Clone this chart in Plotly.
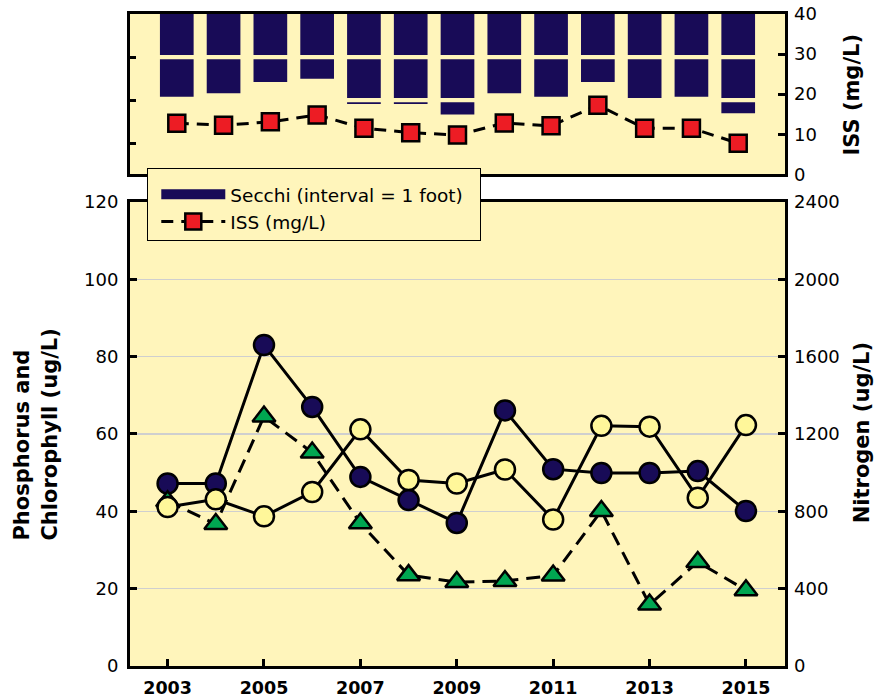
import plotly.graph_objects as go

# ---------------- data ----------------
years = list(range(2003, 2016))
secchi_ft = [1.92, 1.84, 1.58, 1.50, 2.09, 2.09, 2.33, 1.84, 1.92, 1.58, 1.96, 1.92, 2.30]
iss_mgL = [12.75, 12.25, 13.1, 14.8, 11.5, 10.4, 9.8, 12.8, 12.1, 17.25, 11.5, 11.5, 7.75]
phosphorus = [47.2, 47.2, 83.0, 67.0, 48.9, 42.9, 37.0, 66.1, 50.9, 49.9, 49.9, 50.4, 40.1]
chlorophyll = [42.6, 36.7, 64.5, 55.2, 36.9, 23.5, 21.7, 22.0, 23.4, 40.1, 15.9, 26.9, 19.6]
nitrogen = [822, 862, 774, 900, 1224, 962, 944, 1016, 758, 1242, 1238, 870, 1246]
x_tick_years = [2003, 2005, 2007, 2009, 2011, 2013, 2015]

NAVY = "#180B57"
RED = "#ED1C24"
GREEN = "#00A651"
PALE = "#FFF79A"
BG = "#FFF5BB"
FONT = "DejaVu Sans"
NB = "\u00a0"

fig = go.Figure()

# ---------- top panel: Secchi bars split in 1-foot segments ----------
gap = 0.05
for k in range(3):
    bases, lens = [], []
    for s in secchi_ft:
        b = k + (gap if k > 0 else 0.0)
        t = min(s, k + 1 - gap)
        bases.append(b)
        lens.append(max(t - b, 0.0))
    fig.add_trace(go.Bar(
        x=years, y=lens, base=bases, width=0.72,
        marker=dict(color=NAVY, line=dict(width=0)),
        xaxis="x2", yaxis="y3", showlegend=False, hoverinfo="skip",
    ))

# legend proxy for Secchi
fig.add_trace(go.Scatter(
    x=[None], y=[None], mode="lines", name="Secchi (interval = 1 foot)" + NB * 2,
    line=dict(color=NAVY, width=13), xaxis="x2", yaxis="y3",
))

fig.add_trace(go.Scatter(
    x=years, y=iss_mgL, mode="lines+markers", name="ISS (mg/L)",
    line=dict(color="black", width=3, dash="12px,8px"),
    marker=dict(symbol="square", size=17, color=RED, line=dict(color="black", width=2.5)),
    xaxis="x2", yaxis="y4",
))

# ---------- bottom panel ----------
fig.add_trace(go.Scatter(
    x=years, y=phosphorus, mode="lines+markers", showlegend=False,
    line=dict(color="black", width=3),
    marker=dict(symbol="circle", size=20, color=NAVY, line=dict(color="black", width=2.5)),
    xaxis="x", yaxis="y",
))
fig.add_trace(go.Scatter(
    x=years, y=nitrogen, mode="lines+markers", showlegend=False,
    line=dict(color="black", width=3),
    marker=dict(symbol="circle", size=20, color=PALE, line=dict(color="black", width=2.5)),
    xaxis="x", yaxis="y2",
))
fig.add_trace(go.Scatter(
    x=years, y=chlorophyll, mode="lines+markers", showlegend=False,
    line=dict(color="black", width=3, dash="14px,8px"),
    marker=dict(symbol="triangle-up", size=20, color=GREEN, line=dict(color="black", width=2.5)),
    xaxis="x", yaxis="y",
))

tick_font = dict(family=FONT, size=18, color="black")
title_font = dict(family=FONT, size=21, color="black", weight="bold")

bottom_dom = [0, 0.7117]
top_dom = [0.7541, 1]

fig.update_layout(
    width=893, height=698,
    margin=dict(l=130, r=108, t=14, b=32, autoexpand=False),
    paper_bgcolor="white", plot_bgcolor=BG,
    barmode="overlay",
    showlegend=True,
    legend=dict(
        x=0.0264, y=0.7633, xanchor="left", yanchor="top",
        bgcolor=BG, bordercolor="black", borderwidth=1,
        font=dict(family=FONT, size=18.5, color="black"),
        itemwidth=64, indentation=8,
        title=dict(text=NB, font=dict(size=5)),
    ),
    xaxis=dict(
        domain=[0, 1], anchor="y", range=[2002.22, 2015.81], automargin=False,
        tickvals=x_tick_years, ticks="inside", ticklen=7, tickwidth=3, tickcolor="black",
        tickfont=dict(family=FONT, size=17.5, color="black", weight="bold"),
        ticklabelstandoff=4, ticklabeloverflow="allow",
        showline=True, mirror=True, linewidth=3, linecolor="black",
        showgrid=False, zeroline=False,
    ),
    yaxis=dict(
        domain=bottom_dom, anchor="x", range=[0, 120], dtick=20, automargin=False,
        ticks="inside", ticklen=7, tickwidth=3, tickcolor="black",
        tickfont=tick_font, ticklabelstandoff=5, ticklabeloverflow="allow",
        showline=True, mirror=True, linewidth=3, linecolor="black",
        showgrid=True, gridcolor="#CFCFCF", gridwidth=1.5, zeroline=False,
    ),
    yaxis2=dict(
        overlaying="y", side="right", anchor="x", range=[0, 2400], dtick=400, automargin=False,
        ticks="inside", ticklen=7, tickwidth=3, tickcolor="black",
        tickfont=tick_font, ticklabelstandoff=8, ticklabeloverflow="allow",
        showline=False, showgrid=False, zeroline=False,
    ),
    xaxis2=dict(
        domain=[0, 1], anchor="y3", range=[2002.0, 2016.0], automargin=False,
        showticklabels=False, ticks="",
        showline=True, mirror=True, linewidth=3, linecolor="black",
        showgrid=False, zeroline=False,
    ),
    yaxis3=dict(
        domain=top_dom, anchor="x2", range=[3.72, 0], tickvals=[1, 2, 3], automargin=False,
        ticks="inside", ticklen=6, tickwidth=3, tickcolor="black",
        showticklabels=False,
        showline=True, mirror=True, linewidth=3, linecolor="black",
        showgrid=False, zeroline=False,
    ),
    yaxis4=dict(
        overlaying="y3", side="right", anchor="x2", range=[0, 40], dtick=10, automargin=False,
        ticks="inside", ticklen=7, tickwidth=3, tickcolor="black",
        tickfont=tick_font, ticklabelstandoff=8, ticklabeloverflow="allow",
        showline=False, showgrid=False, zeroline=False,
    ),
    annotations=[
        dict(text="Phosphorus and<br>Chlorophyll (ug/L)", xref="paper", yref="paper",
             x=-0.1435, y=0.355, xanchor="center", yanchor="middle", textangle=-90,
             align="left", showarrow=False, font=title_font),
        dict(text="Nitrogen (ug/L)", xref="paper", yref="paper",
             x=1.1176, y=0.357, xanchor="center", yanchor="middle", textangle=-90,
             showarrow=False, font=title_font),
        dict(text="ISS (mg/L)", xref="paper", yref="paper",
             x=1.1008, y=0.8765, xanchor="center", yanchor="middle", textangle=-90,
             showarrow=False, font=title_font),
    ],
)

fig.write_html(
    "out.html",
    config=dict(displayModeBar=False, staticPlot=True),
    post_script="document.body.style.margin='0px';",
)
